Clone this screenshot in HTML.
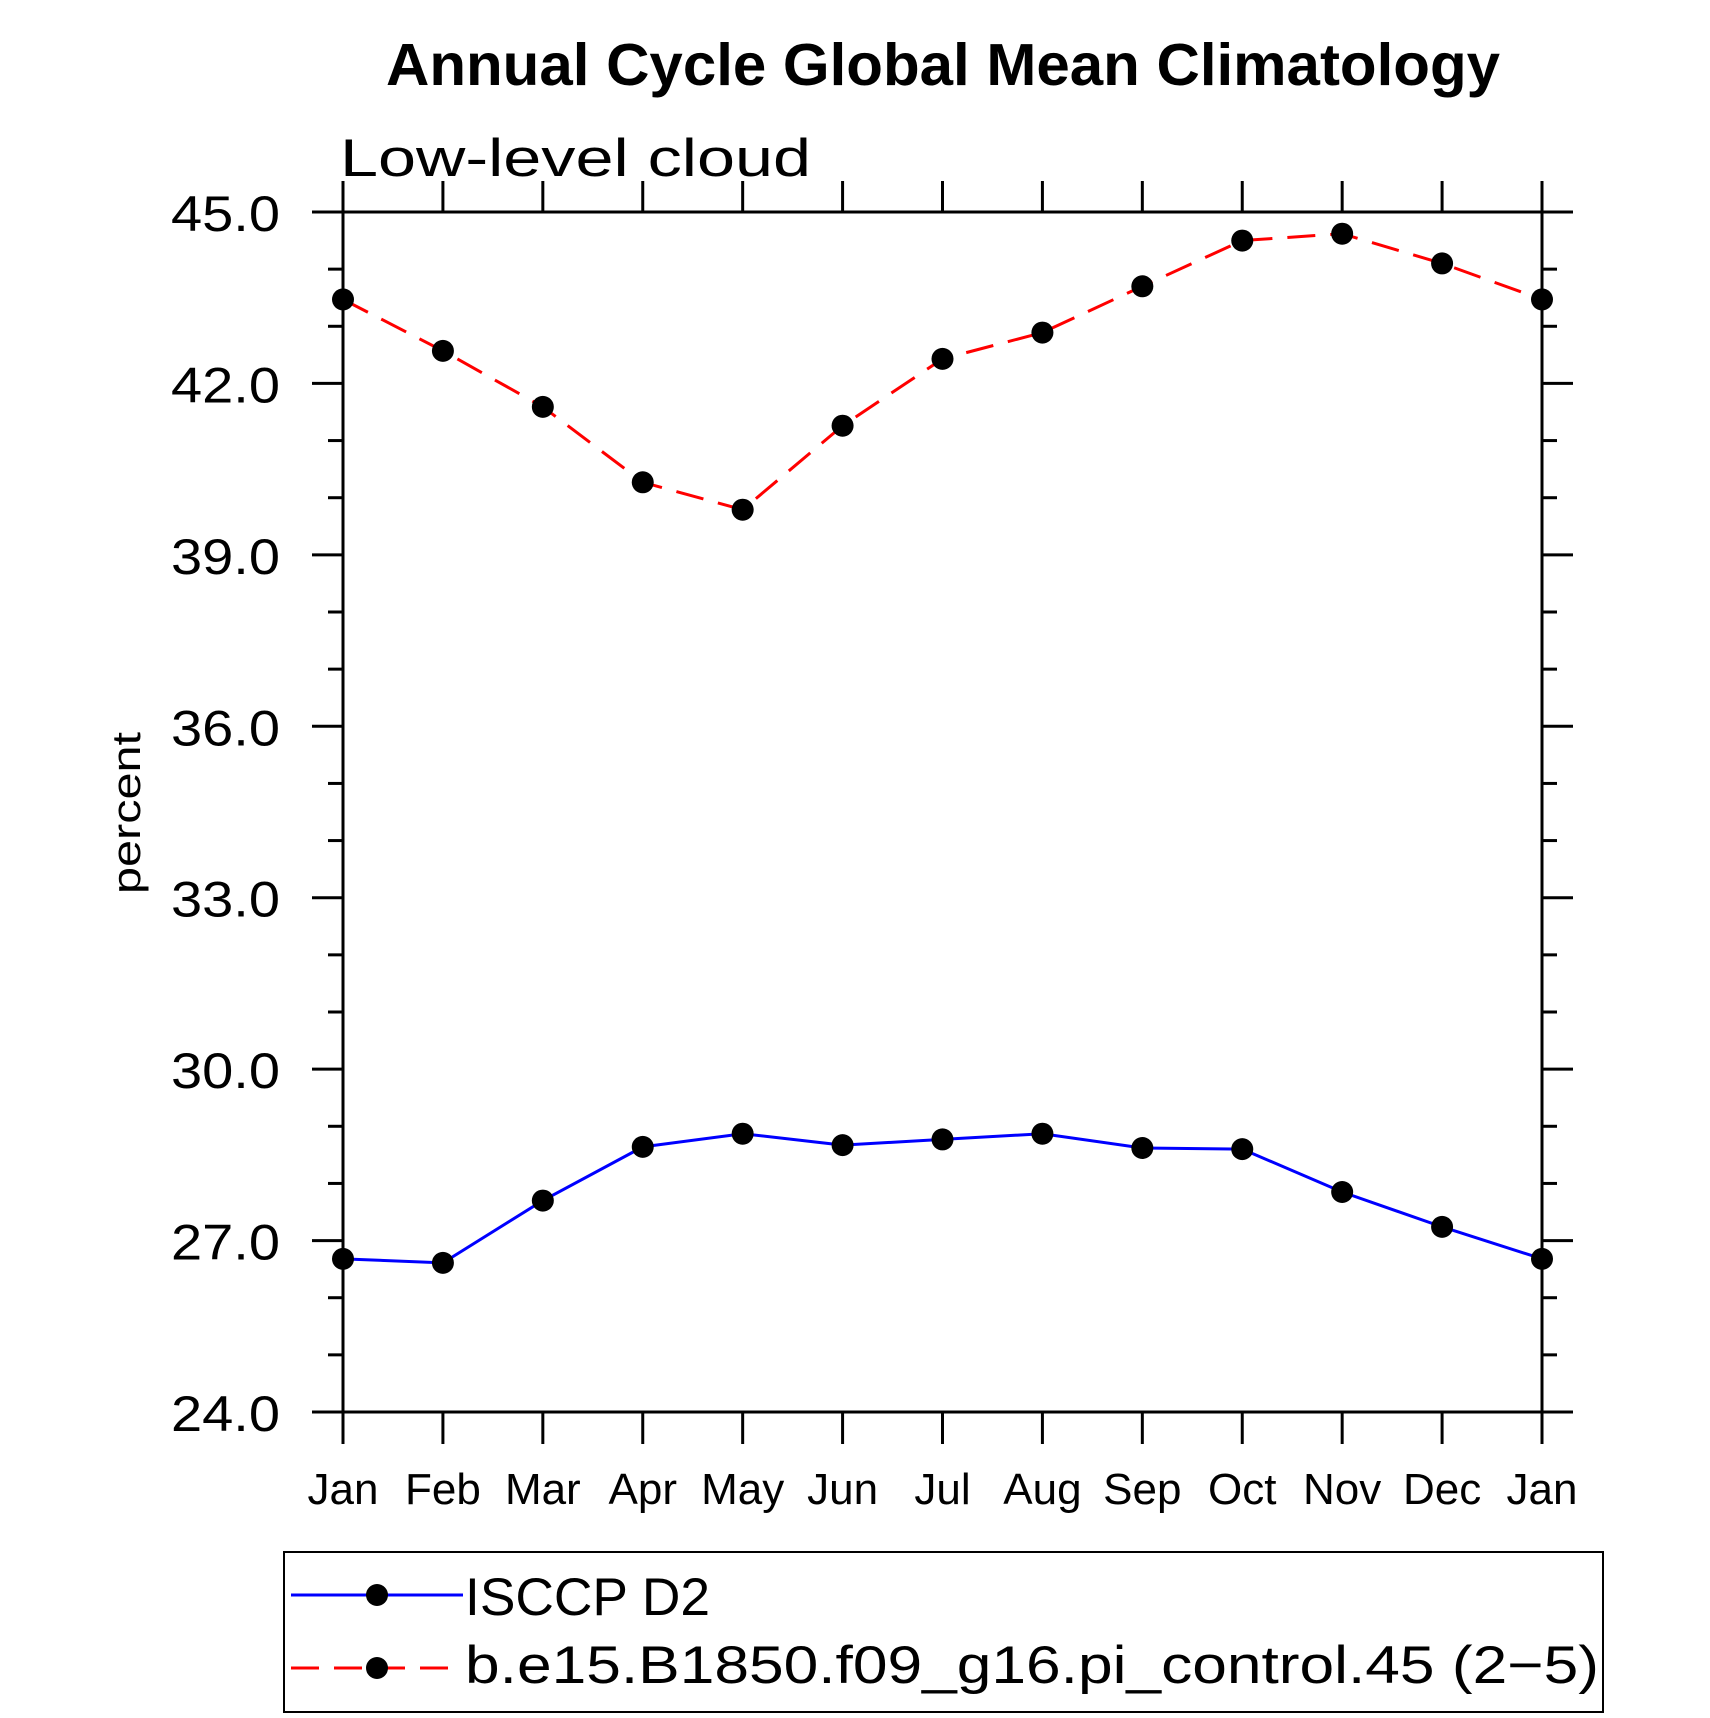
<!DOCTYPE html>
<html><head><meta charset="utf-8"><style>html,body{margin:0;padding:0;background:#fff}svg{display:block}text{font-family:"Liberation Sans",sans-serif}</style></head>
<body>
<svg id="chart" width="1710" height="1718" viewBox="0 0 1710 1718">
<text x="943" y="85" text-anchor="middle" font-size="59" font-weight="bold" textLength="1114" lengthAdjust="spacingAndGlyphs">Annual Cycle Global Mean Climatology</text>
<text x="340" y="176" font-size="53" textLength="471" lengthAdjust="spacingAndGlyphs">Low-level cloud</text>
<text transform="translate(140,813) rotate(-90)" text-anchor="middle" font-size="40" textLength="162" lengthAdjust="spacingAndGlyphs">percent</text>
<g id="axes"></g>
<g id="series"></g>
<rect x="284" y="1552" width="1319" height="160" fill="none" stroke="#000" stroke-width="2"/>
<g>
<line x1="291" y1="1595" x2="463" y2="1595" stroke="#0000ff" stroke-width="3"/>
<circle cx="377" cy="1595" r="11" fill="#000"/>
<text x="465" y="1615" font-size="53" textLength="245" lengthAdjust="spacingAndGlyphs">ISCCP D2</text>
</g>
<g>
<line x1="291" y1="1668" x2="463" y2="1668" stroke="#ff0000" stroke-width="3" stroke-dasharray="28,15"/>
<circle cx="377" cy="1668" r="11" fill="#000"/>
<text x="465" y="1683" font-size="53" textLength="1134" lengthAdjust="spacingAndGlyphs">b.e15.B1850.f09_g16.pi_control.45 (2−5)</text>
</g>
</svg>
<script>
const months = ["Jan","Feb","Mar","Apr","May","Jun","Jul","Aug","Sep","Oct","Nov","Dec","Jan"];
const isccpValues = [26.68,26.61,27.70,28.64,28.87,28.67,28.77,28.87,28.62,28.60,27.85,27.24,26.68];
const modelValues = [43.47,42.57,41.59,40.27,39.79,41.26,42.43,42.89,43.70,44.50,44.62,44.10,43.47];
const yTicks = [24,27,30,33,36,39,42,45];
const yTickLabels = ["24.0","27.0","30.0","33.0","36.0","39.0","42.0","45.0"];

const NS = "http://www.w3.org/2000/svg";
const L=343, R=1542, T=212, B=1412, yMin=24, yMax=45;
function xs(i){return L+(R-L)*i/(months.length-1);}
function ys(v){return B-(B-T)*(v-yMin)/(yMax-yMin);}
function mk(tag, attrs, parent){const e=document.createElementNS(NS,tag);for(const k in attrs)e.setAttribute(k,attrs[k]);parent.appendChild(e);return e;}
const axes=document.getElementById('axes');
const ser=document.getElementById('series');
const st={stroke:"#000","stroke-width":3};
const frame=mk('rect',{x:L,y:T,width:R-L,height:B-T,fill:"none",stroke:"#000","stroke-width":3},axes);


// y ticks
for(let v=yMin; v<=yMax; v++){
  const y=ys(v); const major=(v-yMin)%3===0; const len=major?31:15;
  const t1=mk('line',Object.assign({x1:L-len,y1:y,x2:L,y2:y},st),axes);
  
  
  const t2=mk('line',Object.assign({x1:R,y1:y,x2:R+len,y2:y},st),axes);
  
  
}
yTicks.forEach((v,i)=>{
  const t=mk('text',{x:280,y:ys(v)+19,"text-anchor":"end","font-size":50,textLength:109,lengthAdjust:"spacingAndGlyphs"},axes);
  t.textContent=yTickLabels[i];
  
  
});
months.forEach((m,i)=>{
  const x=xs(i);
  const a=mk('line',Object.assign({x1:x,y1:B,x2:x,y2:B+32},st),axes);
  
  
  const b=mk('line',Object.assign({x1:x,y1:T-31,x2:x,y2:T},st),axes);
  
  
  const t=mk('text',{x:x,y:1504,"text-anchor":"middle","font-size":44},axes);
  t.textContent=m;
  
  
});
function draw(vals,color,dash,name){
  const pts=vals.map((v,i)=>xs(i)+","+ys(v)).join(" ");
  const a={points:pts,fill:"none",stroke:color,"stroke-width":3};
  if(dash)a["stroke-dasharray"]=dash;
  const pl=mk('polyline',a,ser);
  
  
  vals.forEach((v,i)=>{
    const c=mk('circle',{cx:xs(i),cy:ys(v),r:11,fill:"#000"},ser);
    
    
  });
}
draw(isccpValues,"#0000ff",null,"isccp");
draw(modelValues,"#ff0000","28,15","model");
</script>
</body></html>
